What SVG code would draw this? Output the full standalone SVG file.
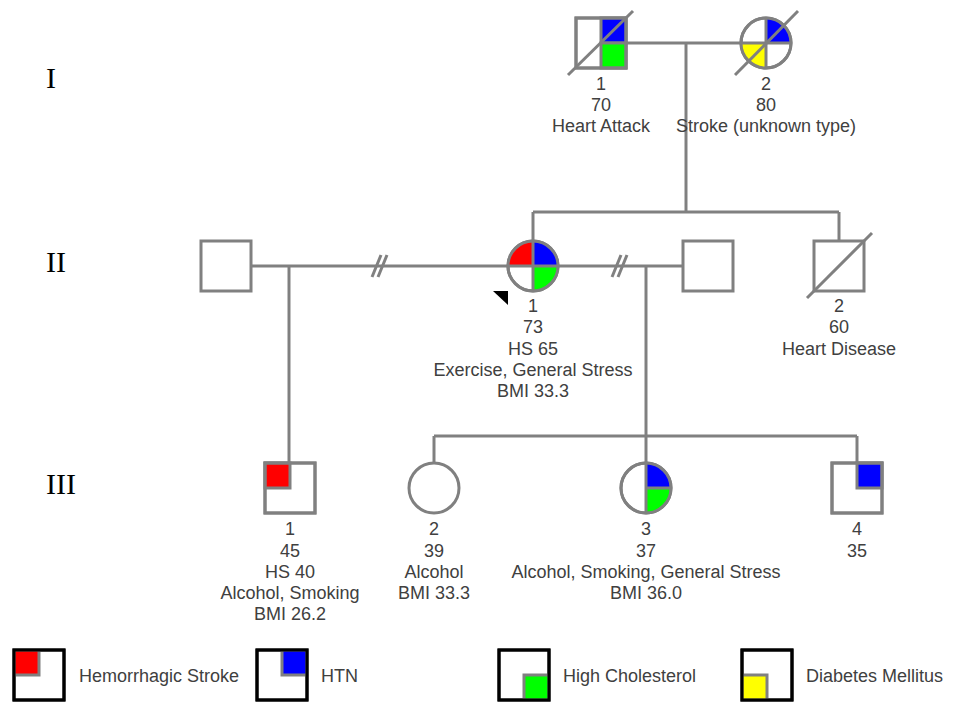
<svg xmlns="http://www.w3.org/2000/svg" width="954" height="702" viewBox="0 0 954 702">
<style>
.ln{stroke:#808080;stroke-width:3;fill:none}
.sym{stroke:#808080;stroke-width:3;fill:#fff}
.q{stroke:#808080;stroke-width:3}
.t{font-family:"Liberation Sans",Arial,sans-serif;font-size:18px;fill:#404040;text-anchor:middle}
.lt{font-family:"Liberation Sans",Arial,sans-serif;font-size:18px;fill:#404040}
.gen{font-family:"Liberation Serif","Times New Roman",serif;font-size:30px;fill:#000}
.lg{stroke:#000;stroke-width:3;fill:#fff}
.lgo{stroke:#000;stroke-width:3;fill:none}
.R{fill:#ff0000}.B{fill:#0000ff}.G{fill:#00ff00}.Y{fill:#ffff00}
</style>
<rect width="954" height="702" fill="#fff"/>
<g id="generations">
<text class="gen" x="46" y="88">I</text>
<text class="gen" x="46" y="272">II</text>
<text class="gen" x="46" y="494">III</text>
</g>
<g id="connectors" class="ln">
<line x1="626" y1="43" x2="741" y2="43"/>
<line x1="686" y1="43" x2="686" y2="212"/>
<line x1="533" y1="212" x2="839" y2="212"/>
<line x1="533" y1="212" x2="533" y2="241"/>
<line x1="839" y1="212" x2="839" y2="241"/>
<line x1="251" y1="266" x2="508" y2="266"/>
<line x1="558" y1="266" x2="683" y2="266"/>
<line x1="372" y1="277" x2="381" y2="255"/>
<line x1="378" y1="277" x2="387" y2="255"/>
<line x1="612" y1="277" x2="621" y2="255"/>
<line x1="618" y1="277" x2="627" y2="255"/>
<line x1="289" y1="266" x2="289" y2="463"/>
<line x1="646" y1="266" x2="646" y2="463"/>
<line x1="434" y1="436" x2="857" y2="436"/>
<line x1="434" y1="436" x2="434" y2="463"/>
<line x1="857" y1="436" x2="857" y2="463"/>
</g>
<g id="I-1">
<rect class="sym" x="576" y="18" width="50" height="50"/>
<rect class="B q" x="601" y="18" width="25" height="25"/>
<rect class="G q" x="601" y="43" width="25" height="25"/>
<rect x="576" y="18" width="50" height="50" class="ln"/>
<line class="ln" x1="568" y1="75" x2="633" y2="11"/>
<text class="t" x="601" y="90">1</text>
<text class="t" x="601" y="111">70</text>
<text class="t" x="601" y="132">Heart Attack</text>
</g>
<g id="I-2">
<circle class="sym" cx="766" cy="43" r="25"/>
<path class="B" d="M766 43 L766 18 A25 25 0 0 1 791 43 Z"/>
<path class="Y" d="M766 43 L766 68 A25 25 0 0 1 741 43 Z"/>
<line class="ln" x1="741" y1="43" x2="791" y2="43"/>
<line class="ln" x1="766" y1="18" x2="766" y2="68"/>
<circle class="ln" cx="766" cy="43" r="25"/>
<line class="ln" x1="735" y1="75" x2="798" y2="11"/>
<text class="t" x="766" y="90">2</text>
<text class="t" x="766" y="111">80</text>
<text class="t" x="766" y="132">Stroke (unknown type)</text>
</g>
<g id="II-spouse1">
<rect class="sym" x="201" y="241" width="50" height="50"/>
</g>
<g id="II-1">
<circle class="sym" cx="533" cy="266" r="25"/>
<path class="R" d="M533 266 L508 266 A25 25 0 0 1 533 241 Z"/>
<path class="B" d="M533 266 L533 241 A25 25 0 0 1 558 266 Z"/>
<path class="G" d="M533 266 L558 266 A25 25 0 0 1 533 291 Z"/>
<line class="ln" x1="508" y1="266" x2="558" y2="266"/>
<line class="ln" x1="533" y1="241" x2="533" y2="291"/>
<circle class="ln" cx="533" cy="266" r="25"/>
<polygon points="493,291 508,291 508,305" fill="#000"/>
<text class="t" x="533" y="312">1</text>
<text class="t" x="533" y="333">73</text>
<text class="t" x="533" y="355">HS 65</text>
<text class="t" x="533" y="376">Exercise, General Stress</text>
<text class="t" x="533" y="397">BMI 33.3</text>
</g>
<g id="II-spouse2">
<rect class="sym" x="683" y="241" width="50" height="50"/>
</g>
<g id="II-2">
<rect class="sym" x="814" y="241" width="50" height="50"/>
<line class="ln" x1="807" y1="298" x2="872" y2="233"/>
<text class="t" x="839" y="312">2</text>
<text class="t" x="839" y="333">60</text>
<text class="t" x="839" y="355">Heart Disease</text>
</g>
<g id="III-1">
<rect class="sym" x="265" y="463" width="50" height="50"/>
<rect class="R q" x="265" y="463" width="25" height="25"/>
<rect x="265" y="463" width="50" height="50" class="ln"/>
<text class="t" x="290" y="535">1</text>
<text class="t" x="290" y="557">45</text>
<text class="t" x="290" y="578">HS 40</text>
<text class="t" x="290" y="599">Alcohol, Smoking</text>
<text class="t" x="290" y="620">BMI 26.2</text>
</g>
<g id="III-2">
<circle class="sym" cx="434" cy="488" r="25"/>
<text class="t" x="434" y="535">2</text>
<text class="t" x="434" y="557">39</text>
<text class="t" x="434" y="578">Alcohol</text>
<text class="t" x="434" y="599">BMI 33.3</text>
</g>
<g id="III-3">
<circle class="sym" cx="646" cy="488" r="25"/>
<path class="B" d="M646 488 L646 463 A25 25 0 0 1 671 488 Z"/>
<path class="G" d="M646 488 L671 488 A25 25 0 0 1 646 513 Z"/>
<line class="ln" x1="646" y1="488" x2="671" y2="488"/>
<line class="ln" x1="646" y1="463" x2="646" y2="513"/>
<circle class="ln" cx="646" cy="488" r="25"/>
<text class="t" x="646" y="535">3</text>
<text class="t" x="646" y="557">37</text>
<text class="t" x="646" y="578">Alcohol, Smoking, General Stress</text>
<text class="t" x="646" y="599">BMI 36.0</text>
</g>
<g id="III-4">
<rect class="sym" x="832" y="463" width="50" height="50"/>
<rect class="B q" x="857" y="463" width="25" height="25"/>
<rect x="832" y="463" width="50" height="50" class="ln"/>
<text class="t" x="857" y="535">4</text>
<text class="t" x="857" y="557">35</text>
</g>
<g id="legend">
<g id="legend-hs">
<rect class="lg" x="14" y="650" width="50" height="50"/>
<rect class="R q" x="14" y="650" width="25" height="25"/>
<rect class="lgo" x="14" y="650" width="50" height="50"/>
<text class="lt" x="79" y="682">Hemorrhagic Stroke</text>
</g>
<g id="legend-htn">
<rect class="lg" x="257" y="650" width="50" height="50"/>
<rect class="B q" x="282" y="650" width="25" height="25"/>
<rect class="lgo" x="257" y="650" width="50" height="50"/>
<text class="lt" x="321" y="682">HTN</text>
</g>
<g id="legend-chol">
<rect class="lg" x="499" y="650" width="50" height="50"/>
<rect class="G q" x="524" y="675" width="25" height="25"/>
<rect class="lgo" x="499" y="650" width="50" height="50"/>
<text class="lt" x="563" y="682">High Cholesterol</text>
</g>
<g id="legend-dm">
<rect class="lg" x="742" y="650" width="50" height="50"/>
<rect class="Y q" x="742" y="675" width="25" height="25"/>
<rect class="lgo" x="742" y="650" width="50" height="50"/>
<text class="lt" x="806" y="682">Diabetes Mellitus</text>
</g>
</g>
</svg>
